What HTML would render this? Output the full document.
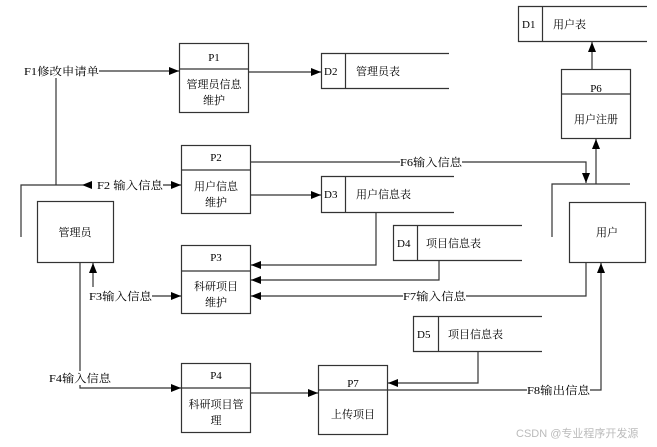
<!DOCTYPE html>
<html><head><meta charset="utf-8"><style>
html,body{margin:0;padding:0;background:#fff;width:657px;height:447px;overflow:hidden}
svg text{font-family:"Liberation Serif","Noto Serif CJK SC",serif;font-size:11px;fill:#000}
</style></head><body>
<svg width="657" height="447" viewBox="0 0 657 447" xmlns="http://www.w3.org/2000/svg">
<defs><marker id="a" markerWidth="10" markerHeight="8" refX="10" refY="4" orient="auto" markerUnits="userSpaceOnUse"><path d="M0,0 L10,4 L0,8 z" fill="#000"/></marker></defs>
<g fill="none" stroke="#333" stroke-width="1.2">
<rect x="179.5" y="43.5" width="69" height="69"/><line x1="179" y1="69" x2="249" y2="69"/>
<rect x="181.5" y="145.5" width="69" height="68"/><line x1="181" y1="170" x2="251" y2="170"/>
<rect x="181.5" y="245.5" width="69" height="68"/><line x1="181" y1="271" x2="251" y2="271"/>
<rect x="181.5" y="363.5" width="69" height="69"/><line x1="181" y1="388" x2="251" y2="388"/>
<rect x="318.5" y="365.5" width="69" height="69"/>
<rect x="561.5" y="69.5" width="69" height="69"/><line x1="561" y1="94" x2="631" y2="94"/>
<rect x="37.5" y="201.5" width="76" height="61"/>
<rect x="569.5" y="202.5" width="76" height="60"/>
<path d="M647,6.5 H518.5 V41.5 H647 M542.5,6 V42"/>
<path d="M449,53.5 H321.5 V88.5 H449 M345.5,53 V89"/>
<path d="M454,176.5 H321.5 V212.5 H454 M345.5,176 V213"/>
<path d="M522,225.5 H393.5 V260.5 H522 M417.5,225 V261"/>
<path d="M542,316.5 H413.5 V351.5 H542 M438.5,316 V352"/>
<line x1="99" y1="71" x2="179" y2="71" marker-end="url(#a)"/>
<line x1="56" y1="78" x2="56" y2="185"/>
<polyline points="21,237 21,185 82,185"/>
<line x1="86" y1="185" x2="82" y2="185" marker-end="url(#a)"/>
<line x1="163" y1="185" x2="181" y2="185" marker-end="url(#a)"/>
<line x1="249" y1="72" x2="321" y2="72" marker-end="url(#a)"/>
<line x1="250" y1="195" x2="321" y2="195" marker-end="url(#a)"/>
<polyline points="251,162 586,162 586,183" marker-end="url(#a)"/>
<line x1="592" y1="69" x2="592" y2="42" marker-end="url(#a)"/>
<line x1="596" y1="184" x2="596" y2="139" marker-end="url(#a)"/>
<polyline points="552,237 552,184 630,184"/>
<polyline points="376,212 376,265 251,265" marker-end="url(#a)"/>
<polyline points="439,260 439,280 251,280" marker-end="url(#a)"/>
<polyline points="586,262 586,296 251,296" marker-end="url(#a)"/>
<line x1="93" y1="287" x2="93" y2="263" marker-end="url(#a)"/>
<line x1="152" y1="296" x2="181" y2="296" marker-end="url(#a)"/>
<polyline points="80,262 80,388 181,388" marker-end="url(#a)"/>
<line x1="250" y1="393" x2="318" y2="393" marker-end="url(#a)"/>
<polyline points="478,351 478,383 388,383" marker-end="url(#a)"/>
<line x1="318" y1="390" x2="388" y2="390"/>
<polyline points="388,390 601,390 601,263" marker-end="url(#a)"/>
</g>
<g text-anchor="middle">
<text x="214" y="61">P1</text><text x="214" y="88">管理员信息</text><text x="214" y="104">维护</text>
<text x="216" y="161">P2</text><text x="216" y="190">用户信息</text><text x="216" y="206">维护</text>
<text x="216" y="261">P3</text><text x="216" y="290">科研项目</text><text x="216" y="306">维护</text>
<text x="216" y="379">P4</text><text x="216" y="408">科研项目管</text><text x="216" y="424">理</text>
<text x="353" y="387">P7</text><text x="353" y="418">上传项目</text>
<text x="596" y="92">P6</text><text x="596" y="123">用户注册</text>
<text x="75" y="236">管理员</text>
<text x="607" y="236">用户</text>
</g>
<g fill="#fff" stroke="none">
<rect x="24" y="64" width="75" height="14"/><rect x="97" y="178" width="66" height="14"/>
<rect x="400" y="155" width="62" height="14"/><rect x="403" y="289" width="63" height="14"/>
<rect x="527" y="383" width="63" height="14"/><rect x="89" y="289" width="63" height="14"/>
<rect x="49" y="371" width="62" height="14"/>
</g>
<text x="24" y="75" textLength="75" lengthAdjust="spacingAndGlyphs">F1修改申请单</text>
<text x="97" y="189" textLength="66" lengthAdjust="spacingAndGlyphs">F2 输入信息</text>
<text x="400" y="166" textLength="62" lengthAdjust="spacingAndGlyphs">F6输入信息</text>
<text x="403" y="300" textLength="63" lengthAdjust="spacingAndGlyphs">F7输入信息</text>
<text x="89" y="300" textLength="63" lengthAdjust="spacingAndGlyphs">F3输入信息</text>
<text x="49" y="382" textLength="62" lengthAdjust="spacingAndGlyphs">F4输入信息</text>
<text x="527" y="394" textLength="63" lengthAdjust="spacingAndGlyphs">F8输出信息</text>
<text x="324" y="75">D2</text><text x="356" y="75">管理员表</text>
<text x="324" y="198">D3</text><text x="356" y="198">用户信息表</text>
<text x="397" y="247">D4</text><text x="426" y="247">项目信息表</text>
<text x="417" y="338">D5</text><text x="448" y="338">项目信息表</text>
<text x="522" y="28">D1</text><text x="553" y="28">用户表</text>
<text x="516" y="437" style="fill:#bbb;font-family:'Liberation Sans','Noto Sans CJK SC',sans-serif;font-size:11px">CSDN @专业程序开发源</text>
</svg>
</body></html>
